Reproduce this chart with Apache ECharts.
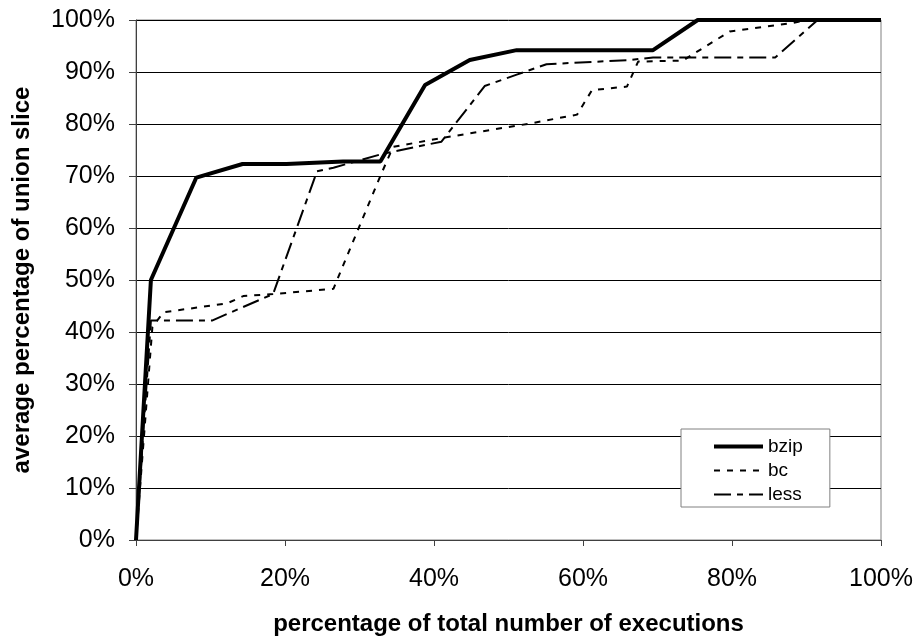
<!DOCTYPE html>
<html>
<head>
<meta charset="utf-8">
<script src="https://cdn.jsdelivr.net/npm/echarts@6/dist/echarts.min.js"></script>
<style>
  html, body { margin: 0; padding: 0; background: #fff; }
  #chart { width: 920px; height: 641px; }
</style>
</head>
<body>
<div id="chart"></div>
<script>
// [percentage of executions, average percentage of union slice]
const bzipPts = [
  [0, 0], [2, 50], [8.1, 69.7], [14.3, 72.3], [20.2, 72.3], [27.8, 72.8],
  [32.8, 72.8], [38.8, 87.5], [44.8, 92.3], [51.1, 94.2], [69.4, 94.2],
  [75.4, 100], [100, 100]
];
const bcPts = [
  [0, 0], [2.2, 41], [3.7, 43.8], [12.2, 45.5], [14.4, 46.9], [18.4, 47.3],
  [26.5, 48.3], [32.8, 70], [34.5, 75.6], [41, 77.3], [52.9, 80.1],
  [59.2, 81.8], [61.2, 86.5], [65.9, 87.2], [67.4, 92], [73.4, 92.2],
  [79.7, 97.8], [88, 99.4], [90, 100], [100, 100]
];
const lessPts = [
  [0, 0], [2, 42.2], [10.2, 42.2], [18.4, 47.3], [24.3, 70.9], [26.5, 71.6],
  [33.2, 74.3], [41, 76.6], [46.8, 87.3], [51.1, 89.5], [55.1, 91.5],
  [66.3, 92.3], [69.4, 92.8], [85.8, 92.8], [91.5, 100], [100, 100]
];
const seriesNames = ["bzip", "bc", "less"];

const fontFamily = "'Liberation Sans', Arial, sans-serif";

// line looks shared by the plot and the legend
const styles = [
  { color: "#000", width: 4, type: "solid" },
  { color: "#000", width: 2, type: [6, 7] },
  { color: "#000", width: 2, type: [17, 6, 6, 6] }
];
const dataSets = [bzipPts, bcPts, lessPts];

const chart = echarts.init(document.getElementById("chart"));

chart.setOption({
  backgroundColor: "#fff",
  animation: false,
  grid: {
    left: 136, right: 39, top: 20, bottom: 100,
    show: true, borderColor: "#808080", borderWidth: 1
  },
  legend: {
    orient: "vertical",
    left: 681, top: 429,
    padding: [8, 27, 3, 31],
    itemGap: 5,
    itemWidth: 49,
    itemHeight: 14,
    backgroundColor: "#fff",
    borderColor: "#808080",
    borderWidth: 1,
    itemStyle: { opacity: 0 },
    textStyle: { fontFamily: fontFamily, fontSize: 19, color: "#000" },
    data: seriesNames.map((n, i) => ({ name: n, lineStyle: styles[i] }))
  },
  xAxis: {
    type: "value",
    min: 0, max: 100, interval: 20,
    name: "percentage of total number of executions",
    nameLocation: "middle",
    nameGap: 72,
    nameTextStyle: { fontFamily: fontFamily, fontSize: 24, fontWeight: "bold", color: "#000" },
    axisLine: { show: true, lineStyle: { color: "#404040", width: 1 } },
    axisTick: { show: true, length: 6, lineStyle: { color: "#404040" } },
    axisLabel: { formatter: "{value}%", fontFamily: fontFamily, fontSize: 25, color: "#000", margin: 27 },
    splitLine: { show: false }
  },
  yAxis: {
    type: "value",
    min: 0, max: 100, interval: 10,
    name: "average percentage of union slice",
    nameLocation: "middle",
    nameGap: 102,
    nameTextStyle: { fontFamily: fontFamily, fontSize: 24, fontWeight: "bold", color: "#000" },
    axisLine: { show: true, lineStyle: { color: "#404040", width: 1 } },
    axisTick: { show: true, length: 7, lineStyle: { color: "#404040" } },
    axisLabel: { formatter: "{value}%", fontFamily: fontFamily, fontSize: 25, color: "#000", margin: 21 },
    splitLine: { show: true, lineStyle: { color: "#000", width: 1 } }
  },
  series: seriesNames.map((n, i) => ({
    name: n,
    type: "line",
    data: dataSets[i],
    symbol: "none",
    color: "#000",
    itemStyle: { color: "#000" },
    lineStyle: styles[i]
  }))
});
</script>
</body>
</html>
